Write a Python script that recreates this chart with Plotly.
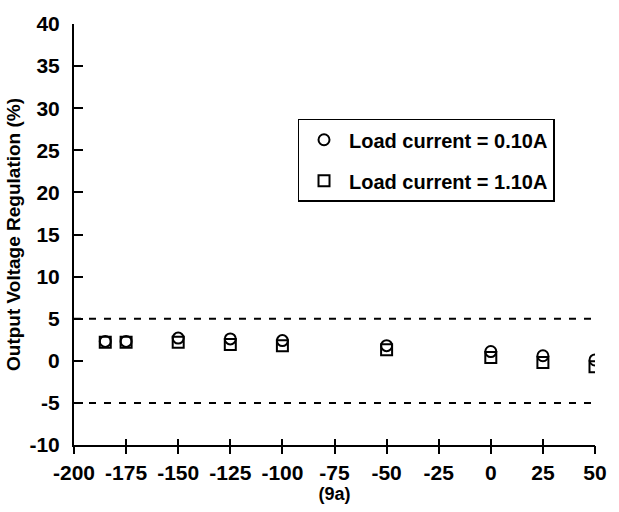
import plotly.graph_objects as go

# Data
temperature = [-185, -175, -150, -125, -100, -50, 0, 25, 50]
reg_010A = [2.3, 2.3, 2.7, 2.6, 2.4, 1.8, 1.1, 0.6, 0.1]
reg_110A = [2.2, 2.2, 2.2, 1.95, 1.8, 1.3, 0.4, -0.2, -0.7]
limit_levels = [5, -5]
x_range = [-200, 50]
y_range = [-10, 40]
x_ticks = list(range(-200, 51, 25))
y_ticks = list(range(-10, 41, 5))
x_ticklabels = [str(v) for v in x_ticks]
y_ticklabels = [str(v) for v in y_ticks]

FONT = "Arial, Liberation Sans, sans-serif"

fig = go.Figure()

fig.add_trace(go.Scatter(
    x=temperature, y=reg_010A, mode="markers",
    name="Load current = 0.10A", legendgroup="a",
    marker=dict(symbol="circle-open", size=11, color="black", line=dict(width=2, color="black")),
))
fig.add_trace(go.Scatter(
    x=temperature, y=reg_110A, mode="markers",
    name="Load current = 1.10A", legendgroup="b",
    marker=dict(symbol="square-open", size=11, color="black", line=dict(width=2, color="black")),
))

for lv in limit_levels:
    fig.add_trace(go.Scatter(
        x=x_range, y=[lv, lv], mode="lines", xaxis="x2", showlegend=False,
        line=dict(color="black", width=2, dash="7px,8px"), hoverinfo="skip",
    ))

fig.update_layout(
    width=619, height=512,
    margin=dict(l=72, r=16, t=18, b=67),
    paper_bgcolor="white", plot_bgcolor="white",
    font=dict(family=FONT, size=20, color="black", weight="bold"),
    showlegend=True,
    legend=dict(
        x=0.429, y=0.775, xanchor="left", yanchor="top",
        bordercolor="black", borderwidth=1.5, bgcolor="white",
        font=dict(family=FONT, size=20, color="black", weight="bold"),
        tracegroupgap=12, traceorder="grouped",
        itemwidth=40,
    ),
    xaxis=dict(
        range=x_range, tickvals=x_ticks, ticktext=x_ticklabels,
        ticks="inside", ticklen=6, tickwidth=2,
        tickcolor="black", showline=True, linecolor="black", linewidth=2,
        showgrid=False, zeroline=False, ticklabelstandoff=8,
        tickfont=dict(family=FONT, size=21, color="black", weight="bold"),
        title=dict(text="(9a)", standoff=0, font=dict(family=FONT, size=18, color="black", weight="bold")),
    ),
    xaxis2=dict(
        range=x_range, tickvals=x_ticks, overlaying="x", anchor="y", side="bottom",
        ticks="outside", ticklen=8, tickwidth=2, tickcolor="black",
        showticklabels=False, showline=False, showgrid=False, zeroline=False,
    ),
    yaxis=dict(
        range=y_range, tickvals=y_ticks, ticktext=y_ticklabels,
        ticks="inside", ticklen=9, tickwidth=2,
        tickcolor="black", showline=True, linecolor="black", linewidth=2,
        showgrid=False, zeroline=False, ticklabelstandoff=8,
        tickfont=dict(family=FONT, size=21, color="black", weight="bold"),
        title=dict(text="Output Voltage Regulation (%)", standoff=4,
                   font=dict(family=FONT, size=19, color="black", weight="bold")),
    ),
)

fig.write_html("out.html")
